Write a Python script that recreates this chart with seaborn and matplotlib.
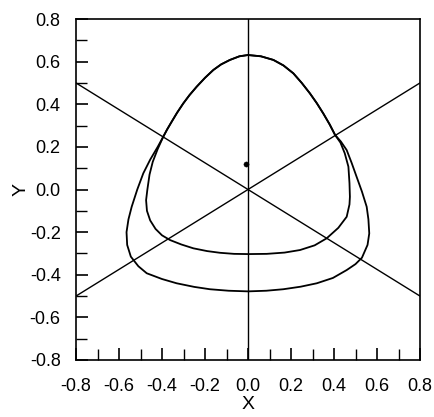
import numpy as np
import pandas as pd
import matplotlib
matplotlib.use("Agg")
import matplotlib.pyplot as plt
import seaborn as sns
from matplotlib.ticker import MultipleLocator, FormatStrFormatter

# Outer closed orbit (counter-clockwise from the top)
outer_x = [0.000, -0.040, -0.084, -0.125, -0.161, -0.200, -0.239, -0.272, -0.301,
           -0.330, -0.355, -0.376, -0.394, -0.420, -0.455, -0.487, -0.515, -0.541,
           -0.556, -0.565, -0.562, -0.545, -0.510, -0.471, -0.400, -0.332, -0.250,
           -0.177, -0.090, 0.000, 0.085, 0.164, 0.245, 0.320, 0.395, 0.459, 0.500,
           0.530, 0.556, 0.564, 0.560, 0.552, 0.530, 0.505, 0.482, 0.459, 0.432,
           0.405, 0.380, 0.350, 0.320, 0.288, 0.250, 0.211, 0.165, 0.118, 0.060, 0.000]
outer_y = [0.631, 0.625, 0.608, 0.587, 0.561, 0.524, 0.482, 0.443, 0.404,
           0.360, 0.318, 0.282, 0.248, 0.200, 0.140, 0.076, 0.000, -0.081,
           -0.140, -0.200, -0.260, -0.315, -0.360, -0.393, -0.420, -0.440, -0.457,
           -0.468, -0.475, -0.478, -0.475, -0.468, -0.456, -0.440, -0.415, -0.378, -0.350,
           -0.320, -0.260, -0.206, -0.140, -0.081, -0.010, 0.060, 0.125, 0.185, 0.225,
           0.256, 0.305, 0.357, 0.405, 0.451, 0.500, 0.545, 0.582, 0.608, 0.625, 0.631]

# Inner closed orbit; shares the upper arc with the outer one
inner_x = [0.000, -0.040, -0.084, -0.125, -0.161, -0.200, -0.239, -0.272, -0.301,
           -0.330, -0.355, -0.376, -0.394, -0.420, -0.443, -0.458, -0.468, -0.474,
           -0.470, -0.455, -0.430, -0.400, -0.363, -0.310, -0.254, -0.190, -0.130,
           -0.065, 0.000, 0.087, 0.170, 0.242, 0.310, 0.366, 0.420, 0.459, 0.472,
           0.474, 0.472, 0.467, 0.450, 0.430, 0.405, 0.380, 0.350, 0.320, 0.288,
           0.250, 0.211, 0.165, 0.118, 0.060, 0.000]
inner_y = [0.631, 0.625, 0.608, 0.587, 0.561, 0.524, 0.482, 0.443, 0.404,
           0.360, 0.318, 0.282, 0.248, 0.190, 0.130, 0.070, 0.000, -0.050,
           -0.100, -0.145, -0.185, -0.215, -0.237, -0.258, -0.276, -0.289, -0.297,
           -0.302, -0.303, -0.302, -0.296, -0.284, -0.262, -0.229, -0.180, -0.128, -0.070,
           -0.034, 0.030, 0.107, 0.170, 0.220, 0.256, 0.305, 0.357, 0.405, 0.451,
           0.500, 0.545, 0.582, 0.608, 0.625, 0.631]

# Symmetry lines through the origin
line_x = [[-0.8, 0.8], [-0.8, 0.8], [0.0, 0.0]]
line_y = [[0.5, -0.5], [-0.5, 0.5], [-0.8, 0.8]]

# Fixed point
point_x = [-0.007]
point_y = [0.118]

sns.set_theme(style="white")
plt.rcParams["font.family"] = ["Liberation Sans", "DejaVu Sans"]
plt.rcParams["axes.unicode_minus"] = False

fig = plt.figure(figsize=(4.34, 4.17), dpi=100)
ax = fig.add_axes([76 / 434, 1 - 360 / 417, 344 / 434, 341 / 417])


def draw_path(xs, ys, lw):
    df = pd.DataFrame({"x": xs, "y": ys})
    sns.lineplot(data=df, x="x", y="y", sort=False, estimator=None, errorbar=None,
                 color="black", lw=lw, ax=ax)


for lx, ly in zip(line_x, line_y):
    draw_path(lx, ly, 1.0)

draw_path(outer_x, outer_y, 1.3)
draw_path(inner_x, inner_y, 1.3)

sns.scatterplot(x=point_x, y=point_y, color="black", s=14, edgecolor="black", ax=ax)

ax.set_xlim(-0.8, 0.8)
ax.set_ylim(-0.8, 0.8)
ax.xaxis.set_major_locator(MultipleLocator(0.2))
ax.yaxis.set_major_locator(MultipleLocator(0.2))
ax.xaxis.set_minor_locator(MultipleLocator(0.1))
ax.yaxis.set_minor_locator(MultipleLocator(0.1))
ax.xaxis.set_major_formatter(FormatStrFormatter("%.1f"))
ax.yaxis.set_major_formatter(FormatStrFormatter("%.1f"))
ax.tick_params(which="major", direction="in", length=8.6, width=1.2, color="black",
               labelsize=13, labelcolor="black", left=True, bottom=True)
ax.tick_params(which="minor", direction="in", length=8, width=1.0, color="black",
               left=True, bottom=True)
ax.tick_params(axis="x", which="major", pad=13)
ax.tick_params(axis="y", which="major", pad=11)

for s in ax.spines.values():
    s.set_color("black")
    s.set_linewidth(1.2)

ax.set_xlabel("X", fontsize=14, color="black", labelpad=1)
ax.set_ylabel("Y", fontsize=14, color="black", labelpad=0)

fig.savefig("out.png", dpi=100)
